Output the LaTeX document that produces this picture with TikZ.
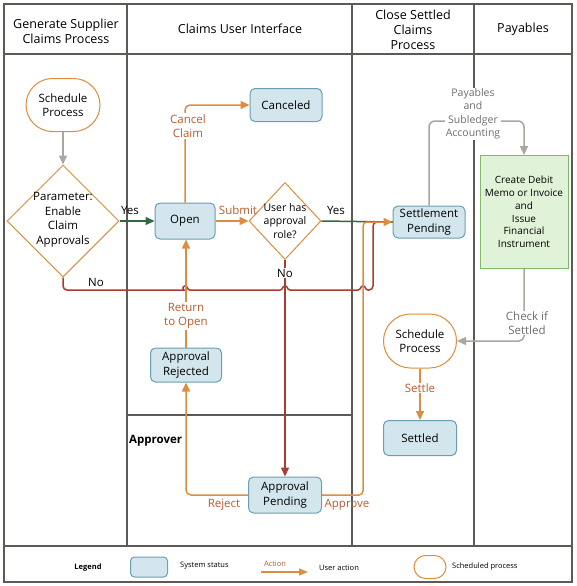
\documentclass[tikz,border=0pt]{standalone}
\usepackage{fontspec}
\setmainfont{Open Sans}
\usetikzlibrary{arrows.meta,shapes.geometric,shapes.misc}
\definecolor{frame}{HTML}{5E5955}
\definecolor{org}{HTML}{DE8C3E}
\definecolor{orgtxt}{HTML}{B85B2E}
\definecolor{redl}{HTML}{A93B2F}
\definecolor{grnl}{HTML}{2E6B45}
\definecolor{gryl}{HTML}{A9A59F}
\definecolor{grytxt}{HTML}{6E6E6E}
\definecolor{bfill}{HTML}{D3E6ED}
\definecolor{bdraw}{HTML}{6C9DB0}
\definecolor{gfill}{HTML}{E0F3D8}
\definecolor{gdraw}{HTML}{7FBA6B}
\newcommand\fHead{\fontsize{12.5}{15}\selectfont}
\newcommand\fNode{\fontsize{11.5}{14.5}\selectfont}
\newcommand\fSmall{\fontsize{10.5}{13.5}\selectfont}
\newcommand\fBox{\fontsize{10}{12.8}\selectfont}
\newcommand\fLeg{\fontsize{7.5}{9}\selectfont}
\tikzset{
  lane/.style={draw=frame, line width=1.2pt},
  hdr/.style={align=center, font=\fHead, inner sep=0pt},
  status/.style={draw=bdraw, fill=bfill, rounded corners=5pt, line width=1pt, inner sep=0pt, align=center, font=\fNode},
  sched/.style={rounded rectangle, draw=org, fill=white, line width=1pt, inner sep=0pt, align=center, font=\fNode},
  dec/.style={diamond, draw=org, fill=white, line width=1pt, inner sep=0pt},
  dectxt/.style={align=center, inner sep=0pt},
  tip/.style={-{Triangle[length=9pt,width=8pt]}},
  act/.style={draw=org, line width=1.5pt},
  redline/.style={draw=redl, line width=1.5pt},
  grnline/.style={draw=grnl, line width=1.5pt},
  gryline/.style={draw=gryl, line width=1.5pt},
  actlbl/.style={text=orgtxt, font=\fNode, align=center, inner sep=1pt},
  grylbl/.style={text=grytxt, align=center, inner sep=1pt},
  plain/.style={font=\fNode, inner sep=1pt},
}
\begin{document}
\begin{tikzpicture}[x=1pt,y=-1pt]
\useasboundingbox (0,0) rectangle (576,586);
% frame and lanes
\draw[lane] (4,4) rectangle (572,582);
\draw[lane] (4,54) -- (572,54);
\draw[lane] (4,546) -- (572,546);
\draw[lane] (127,4) -- (127,546);
\draw[lane] (352,4) -- (352,546);
\draw[lane] (474,4) -- (474,546);
\draw[lane] (127,415) -- (352,415);
% headers
\node[hdr] (h1) at (66,31) {Generate Supplier\\Claims Process};
\node[hdr] (h2) at (240,29) {Claims User Interface};
\node[hdr] (h3) at (413,30) {Close Settled\\Claims\\Process};
\node[hdr] (h4) at (523,29) {Payables};
\node[font=\fNode\bfseries, inner sep=0pt, anchor=west] (appr) at (129,441) {Approver};
% nodes
\node[sched, minimum width=74pt, minimum height=53pt] (sp1) at (63,105) {Schedule\\Process};
\node[dec, minimum width=112pt, minimum height=112pt] (d1) at (63,221) {};
\node[dectxt, font=\fNode] (d1t) at (63,220) {Parameter:\\Enable\\Claim\\Approvals};
\node[status, minimum width=60pt, minimum height=36pt] (open) at (185,221) {Open};
\node[dec, minimum width=72pt, minimum height=77pt] (d2) at (285,221) {};
\node[dectxt, font=\fSmall] (d2t) at (285,221) {User has\\approval\\role?};
\node[status, minimum width=72pt, minimum height=32pt] (spend) at (429,222) {Settlement\\Pending};
\node[status, minimum width=72pt, minimum height=33pt] (canc) at (286,105) {Canceled};
\node[status, minimum width=71pt, minimum height=34pt] (arej) at (186,365) {Approval\\Rejected};
\node[status, minimum width=73pt, minimum height=36pt] (apend) at (285,495) {Approval\\Pending};
\node[draw=gdraw, fill=gfill, line width=1pt, minimum width=88pt, minimum height=113pt, inner sep=0pt, align=center, font=\fBox] (debit) at (524,212) {Create Debit\\Memo or Invoice\\and\\Issue\\Financial\\Instrument};
\node[sched, minimum width=73pt, minimum height=54pt] (sp2) at (420,341) {Schedule\\Process};
\node[status, minimum width=73pt, minimum height=35pt] (settled) at (420,438) {Settled};
% connectors
\draw[gryline, tip] (sp1.south) -- (d1.north);
\draw[redline, rounded corners=4pt] (d1.south) -- (63,290) -- (180,290)
  [sharp corners] .. controls (183,290) and (182,286) .. (185,286) .. controls (188,286) and (187,290) .. (190,290)
  -- (280,290) .. controls (283,290) and (282,286) .. (285,286) .. controls (288,286) and (287,290) .. (290,290)
  -- (358,290) .. controls (361,290) and (360,286) .. (363,286) .. controls (366,286) and (365,290) .. (368,290)
  [rounded corners=4pt] -- (373,290) -- (373,222) -- (spend.west);
\node[plain] (no1) at (96,282) {No};
\draw[grnline, tip] (d1.east) -- (open.west);
\node[plain] (yes1) at (130,210) {Yes};
\draw[act, tip] (open.east) -- (d2.west);
\node[actlbl] (subm) at (238,210) {Submit};
\draw[grnline] (d2.east) -- (spend.west);
\node[plain] (yes2) at (336,210) {Yes};
\draw[act, tip, rounded corners=5pt] (open.north) |- (canc.west);
\node[actlbl, fill=white] (cancl) at (188,126) {Cancel\\Claim};
\draw[act, tip] (arej.north) -- (arej.north |- open.south);
\node[actlbl, fill=white] (retl) at (186,316) {Return\\to Open};
\draw[redline, tip] (d2.south) -- (apend.north);
\node[plain, fill=white, inner sep=0.5pt] (no2) at (285,273) {No};
\draw[act, tip, rounded corners=5pt] (apend.west) -| (arej.south);
\node[actlbl] (rejl) at (224,505) {Reject};
\draw[act, tip, rounded corners=4pt] (apend.east) -- (363,495) -- (363,222) -- (spend.west);
\node[actlbl] (appl) at (347,505) {Approve};
\draw[gryline, tip, rounded corners=6pt] (spend.north) |- (473,121) -| (debit.north);
\node[grylbl, fill=white, font=\fSmall, inner sep=0.5pt] (payl) at (473,114) {Payables\\and\\Subledger\\Accounting};
\draw[gryline, tip, rounded corners=5pt] (debit.south) |- (sp2.east);
\node[grylbl, fill=white, font=\fNode, inner sep=0.5pt] (chkl) at (527,323) {Check if\\Settled};
\draw[act, tip] (sp2.south) -- (settled.north);
\node[actlbl, fill=white, inner sep=0.5pt] (setl) at (420,388) {Settle};
% legend
\node[font=\fLeg\bfseries, inner sep=0pt] (leg) at (88,568) {Legend};
\node[status, minimum width=37pt, minimum height=20pt, rounded corners=4pt] (legbox) at (149,567) {};
\node[font=\fLeg, inner sep=0pt, anchor=west] (legss) at (180,566) {System status};
\coordinate (la) at (261,572);
\coordinate (lb) at (308,572);
\draw[act, line width=1.2pt, -{Triangle[length=9pt,width=7pt]}] (la) -- (lb);
\node[text=orgtxt, font=\fLeg, inner sep=0pt] (legact) at (275,564) {Action};
\node[font=\fLeg, inner sep=0pt, anchor=west] (legua) at (319,568) {User action};
\node[rounded rectangle, draw=org, line width=1pt, minimum width=32pt, minimum height=23pt, inner sep=0pt] (legsp) at (430,567) {};
\node[font=\fLeg, inner sep=0pt, anchor=west] (legsc) at (452,567) {Scheduled process};
\end{tikzpicture}
\end{document}
